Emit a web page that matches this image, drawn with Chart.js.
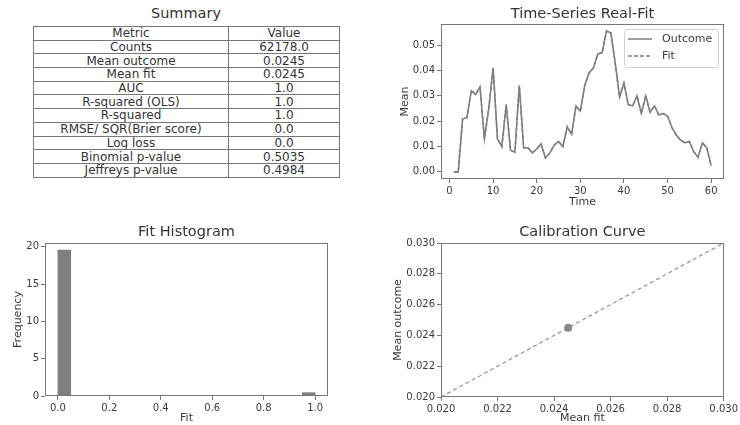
<!DOCTYPE html>
<html>
<head>
<meta charset="utf-8">
<script src="https://cdn.jsdelivr.net/npm/chart.js@4/dist/chart.umd.min.js"></script>
<style>
  body { margin: 0; background: #fff; font-family: "DejaVu Sans", sans-serif; }
  #wrap { position: relative; width: 740px; height: 425px; overflow: hidden; }
  canvas { position: absolute; }
  #summaryTitle { position: absolute; left: 33px; width: 306px; top: 5px; text-align: center; font-size: 14.5px; color: #333; }
  #summary { position: absolute; left: 33px; top: 26px; width: 306px; border-collapse: collapse; font-size: 12px; color: #333; table-layout: fixed; }
  #summary td { border: 1px solid #777; text-align: center; padding: 0; height: 12.7px; line-height: 12px; white-space: nowrap; overflow: hidden; }
</style>
</head>
<body>
<div id="wrap">
  <div id="summaryTitle">Summary</div>
  <table id="summary">
    <colgroup><col style="width:195px"><col style="width:111px"></colgroup>
    <tbody></tbody>
  </table>
  <canvas id="tsChart" width="370" height="215" style="left:370px;top:0px"></canvas>
  <canvas id="histChart" width="370" height="210" style="left:0px;top:215px"></canvas>
  <canvas id="calibChart" width="370" height="210" style="left:370px;top:215px"></canvas>
</div>
<script>
// summary table
const metricNames = ['Metric', 'Counts', 'Mean outcome', 'Mean fit', 'AUC', 'R-squared (OLS)', 'R-squared',
  'RMSE/ SQR(Brier score)', 'Log loss', 'Binomial p-value', 'Jeffreys p-value'];
const metricValues = ['Value', '62178.0', '0.0245', '0.0245', '1.0', '1.0', '1.0', '0.0', '0.0', '0.5035', '0.4984'];

// time series
const timeSteps = [1, 2, 3, 4, 5, 6, 7, 8, 9, 10, 11, 12, 13, 14, 15, 16, 17, 18, 19, 20,
  21, 22, 23, 24, 25, 26, 27, 28, 29, 30, 31, 32, 33, 34, 35, 36, 37, 38, 39, 40,
  41, 42, 43, 44, 45, 46, 47, 48, 49, 50, 51, 52, 53, 54, 55, 56, 57, 58, 59, 60];
const outcomeMean = [0.000, 0.000, 0.0208, 0.0215, 0.032, 0.0305, 0.0335, 0.013, 0.025, 0.041,
  0.013, 0.010, 0.0265, 0.0085, 0.0078, 0.034, 0.0095, 0.0095, 0.0075, 0.009,
  0.011, 0.0055, 0.0075, 0.0105, 0.012, 0.010, 0.0178, 0.0148, 0.026, 0.024,
  0.034, 0.039, 0.041, 0.0465, 0.047, 0.0555, 0.0548, 0.043, 0.0295, 0.035,
  0.0265, 0.026, 0.030, 0.023, 0.030, 0.0235, 0.026, 0.0225, 0.023, 0.022,
  0.0175, 0.0145, 0.0125, 0.0115, 0.012, 0.008, 0.0058, 0.0115, 0.0095, 0.0025];
const fitMean = [0.000, 0.000, 0.0208, 0.0215, 0.032, 0.0305, 0.0335, 0.013, 0.025, 0.041,
  0.013, 0.010, 0.0265, 0.0085, 0.0078, 0.034, 0.0095, 0.0095, 0.0075, 0.009,
  0.011, 0.0055, 0.0075, 0.0105, 0.012, 0.010, 0.0178, 0.0148, 0.026, 0.024,
  0.034, 0.039, 0.041, 0.0465, 0.047, 0.0555, 0.0548, 0.043, 0.0295, 0.035,
  0.0265, 0.026, 0.030, 0.023, 0.030, 0.0235, 0.026, 0.0225, 0.023, 0.022,
  0.0175, 0.0145, 0.0125, 0.0115, 0.012, 0.008, 0.0058, 0.0115, 0.0095, 0.0025];
const timeTicks = [0, 10, 20, 30, 40, 50, 60];
const meanTicks = [0, 0.01, 0.02, 0.03, 0.04, 0.05];

// histogram
const histBinCenters = [0.025, 0.075, 0.125, 0.175, 0.225, 0.275, 0.325, 0.375, 0.425, 0.475,
  0.525, 0.575, 0.625, 0.675, 0.725, 0.775, 0.825, 0.875, 0.925, 0.975];
const histFreq = [19.55, 0, 0, 0, 0, 0, 0, 0, 0, 0, 0, 0, 0, 0, 0, 0, 0, 0, 0, 0.45];
const fitTicks = [0, 0.2, 0.4, 0.6, 0.8, 1.0];
const freqTicks = [0, 5, 10, 15, 20];

// calibration
const calibFit = [0.0245];
const calibOutcome = [0.0245];
const diagFit = [0.020, 0.030];
const diagOutcome = [0.020, 0.030];
const calibTicks = [0.020, 0.022, 0.024, 0.026, 0.028, 0.030];

const tbody = document.querySelector('#summary tbody');
metricNames.forEach((name, i) => {
  const tr = document.createElement('tr');
  tr.innerHTML = '<td>' + name + '</td><td>' + metricValues[i] + '</td>';
  tbody.appendChild(tr);
});

const font = '"DejaVu Sans", sans-serif';
const gray = '#7f7f7f';
const spine = '#777';
const textCol = '#3a3a3a';

const frame = {
  id: 'frame',
  afterDraw(chart) {
    const { ctx, chartArea: a } = chart;
    ctx.save();
    ctx.strokeStyle = spine;
    ctx.lineWidth = 1;
    ctx.strokeRect(Math.round(a.left) + 0.5, Math.round(a.top) + 0.5,
      Math.round(a.right - a.left) - 1, Math.round(a.bottom - a.top) - 1);
    ctx.restore();
  }
};

const insideLegend = {
  id: 'insideLegend',
  afterDraw(chart) {
    const { ctx, chartArea: a } = chart;
    const w = 94, h = 38;
    const x = Math.round(a.right) - 6 - w, y = Math.round(a.top) + 5;
    ctx.save();
    ctx.fillStyle = 'rgba(255,255,255,0.85)';
    ctx.strokeStyle = '#d0d0d0';
    ctx.lineWidth = 1;
    ctx.beginPath();
    ctx.roundRect(x + 0.5, y + 0.5, w, h, 3);
    ctx.fill();
    ctx.stroke();
    chart.data.datasets.forEach((ds, i) => {
      const ly = y + 10 + i * 17;
      ctx.strokeStyle = ds.borderColor;
      ctx.lineWidth = ds.borderWidth;
      ctx.setLineDash(ds.borderDash || []);
      ctx.beginPath();
      ctx.moveTo(x + 4, ly);
      ctx.lineTo(x + 28, ly);
      ctx.stroke();
      ctx.setLineDash([]);
      ctx.fillStyle = textCol;
      ctx.font = '11px ' + font;
      ctx.textBaseline = 'middle';
      ctx.fillText(ds.label, x + 38, ly);
    });
    ctx.restore();
  }
};

function axis(opts) {
  return {
    type: 'linear',
    min: opts.min,
    max: opts.max,
    offset: false,
    afterFit: opts.fit,
    afterBuildTicks: s => { s.ticks = opts.ticks.map(v => ({ value: v })); },
    border: { display: false },
    grid: { drawOnChartArea: false, drawTicks: true, tickLength: 4, color: spine, offset: false },
    ticks: {
      color: textCol, font: { family: font, size: 10 }, padding: 2,
      maxRotation: 0, autoSkip: false,
      callback: v => opts.fmt(v)
    },
    title: { display: true, text: opts.title, color: textCol, font: { family: font, size: 11 }, padding: opts.titlePad }
  };
}

function titleOpts(text, top, bottom) {
  return { display: true, text: text, fullSize: false, color: '#333',
    font: { family: font, size: 14.5, weight: 'normal' }, padding: { top: top, bottom: bottom } };
}

new Chart(document.getElementById('tsChart'), {
  type: 'line',
  data: {
    datasets: [{
      label: 'Outcome',
      data: timeSteps.map((t, i) => ({ x: t, y: outcomeMean[i] })),
      borderColor: gray, borderWidth: 1.5, pointRadius: 0, tension: 0, fill: false
    }, {
      label: 'Fit',
      data: timeSteps.map((t, i) => ({ x: t, y: fitMean[i] })),
      borderColor: gray, borderWidth: 1.5, borderDash: [4, 2], pointRadius: 0, tension: 0, fill: false
    }]
  },
  options: {
    responsive: false, animation: false, devicePixelRatio: 1,
    layout: { padding: { left: 24, right: 16, top: 0, bottom: 5 } },
    plugins: { legend: { display: false }, tooltip: { enabled: false },
      title: titleOpts('Time-Series Real-Fit', 6, 0.6) },
    scales: {
      x: axis({ min: -1.95, max: 62.95, ticks: timeTicks, fmt: v => String(v), title: 'Time',
        titlePad: { top: 0, bottom: 1 }, fit: s => { s.height = 31; } }),
      y: axis({ min: -0.0028, max: 0.0583, ticks: meanTicks, fmt: v => v.toFixed(2), title: 'Mean',
        titlePad: { top: 5, bottom: 0 }, fit: s => { s.width = 47; } })
    }
  },
  plugins: [frame, insideLegend]
});

new Chart(document.getElementById('histChart'), {
  type: 'bar',
  data: {
    datasets: [{
      label: 'Fit',
      data: histBinCenters.map((c, i) => ({ x: c, y: histFreq[i] })),
      backgroundColor: gray, borderWidth: 0,
      barPercentage: 1, categoryPercentage: 1, grouped: false
    }]
  },
  options: {
    responsive: false, animation: false, devicePixelRatio: 1,
    layout: { padding: { left: 7.7, right: 42, top: 0, bottom: 0 } },
    plugins: { legend: { display: false }, tooltip: { enabled: false },
      title: titleOpts('Fit Histogram', 8.6, 2) },
    scales: {
      x: axis({ min: -0.05, max: 1.05, ticks: fitTicks, fmt: v => v.toFixed(1), title: 'Fit',
        titlePad: { top: 0, bottom: 0 }, fit: s => { s.height = 29; } }),
      y: axis({ min: 0, max: 20.5, ticks: freqTicks, fmt: v => String(v), title: 'Frequency',
        titlePad: { top: 4, bottom: 0 }, fit: s => { s.width = 37.3; } })
    }
  },
  plugins: [frame]
});

new Chart(document.getElementById('calibChart'), {
  type: 'scatter',
  data: {
    datasets: [{
      label: 'Calibration',
      data: calibFit.map((f, i) => ({ x: f, y: calibOutcome[i] })),
      backgroundColor: '#888', borderColor: '#888', pointRadius: 4, pointBorderWidth: 0
    }, {
      label: 'Ideal',
      data: diagFit.map((f, i) => ({ x: f, y: diagOutcome[i] })),
      showLine: true, borderColor: '#929292', borderWidth: 1.2, borderDash: [4, 3], pointRadius: 0
    }]
  },
  options: {
    responsive: false, animation: false, devicePixelRatio: 1,
    layout: { padding: { left: 17.7, right: 16, top: 0, bottom: 0 } },
    plugins: { legend: { display: false }, tooltip: { enabled: false },
      title: titleOpts('Calibration Curve', 8.6, 2) },
    scales: {
      x: axis({ min: 0.020, max: 0.030, ticks: calibTicks, fmt: v => v.toFixed(3), title: 'Mean fit',
        titlePad: { top: 0, bottom: 0 }, fit: s => { s.height = 28; } }),
      y: axis({ min: 0.020, max: 0.030, ticks: calibTicks, fmt: v => v.toFixed(3), title: 'Mean outcome',
        titlePad: { top: 4, bottom: 0 }, fit: s => { s.width = 53.3; } })
    }
  },
  plugins: [frame]
});
</script>
</body>
</html>
